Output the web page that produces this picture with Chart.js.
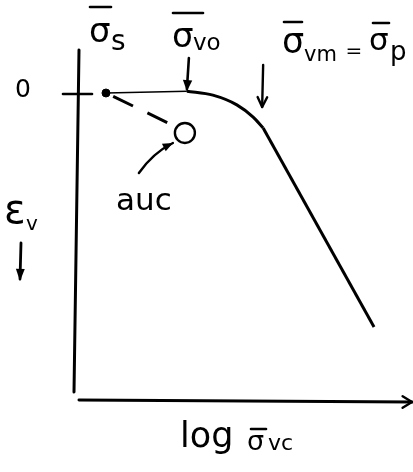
<!DOCTYPE html>
<html><head><meta charset="utf-8">
<script src="https://cdn.jsdelivr.net/npm/chart.js@4.4.1/dist/chart.umd.min.js"></script>
<style>html,body{margin:0;padding:0;background:#fff;overflow:hidden}</style>
</head><body>
<canvas id="c" width="413" height="472" style="display:block;width:413px;height:472px"></canvas>
<script>
// Vertical strain vs. log of vertical effective stress (schematic, arbitrary units)
const plateauX = [0.87, 3.30];          // sigma_s -> sigma_vo
const plateauY = [0, -0.05];
const bendX = [3.30, 4.08, 4.80, 5.29, 5.59];   // rounded transition sigma_vo -> sigma_vm
const bendY = [-0.05, 0.06, 0.33, 0.67, 0.97];
const virginX = [5.59, 8.92];           // straight compression line beyond sigma_vm
const virginY = [0.97, 6.5];
const reloadX = [0.87, 2.73];           // dashed reload path
const reloadY = [0, 0.83];
const specimenX = [3.24];               // open marker
const specimenY = [1.11];
const startX = [0.87];
const startY = [0];
const yTickValues = [0];
const yTickLabels = ['0'];
const xRange = [0, 10];
const yRange = [-1.194, 8.583];

const pts = (xs, ys) => xs.map((x, i) => ({x, y: ys[i]}));
const INK = '#000';

function arrowHead(ctx, x0, y0, x1, y1, len, spread, filled) {
  const a = Math.atan2(y1 - y0, x1 - x0);
  const p1 = [x1 - len * Math.cos(a - spread), y1 - len * Math.sin(a - spread)];
  const p2 = [x1 - len * Math.cos(a + spread), y1 - len * Math.sin(a + spread)];
  ctx.beginPath();
  ctx.moveTo(p1[0], p1[1]); ctx.lineTo(x1, y1); ctx.lineTo(p2[0], p2[1]);
  if (filled) { ctx.closePath(); ctx.fill(); } else { ctx.stroke(); }
}
function seg(ctx, x0, y0, x1, y1, w) {
  ctx.lineWidth = w;
  ctx.beginPath(); ctx.moveTo(x0, y0); ctx.lineTo(x1, y1); ctx.stroke();
}
function txt(ctx, s, x, y, size, align) {
  ctx.font = size + 'px "DejaVu Sans"';
  ctx.textAlign = align || 'left';
  ctx.textBaseline = 'alphabetic';
  ctx.fillText(s, x, y);
}
// sigma with an overbar and a subscript
function sigmaBar(ctx, x, y, size, barY, barX0, barX1, sub, subSize, subX, subY) {
  txt(ctx, 'σ', x, y, size);
  seg(ctx, barX0, barY, barX1, barY, 2.6);
  if (sub) txt(ctx, sub, subX, subY, subSize);
}

const sketch = {
  id: 'sketch',
  afterDraw(chart) {
    const {ctx, chartArea: ca, scales: {x, y}} = chart;
    ctx.save();
    ctx.strokeStyle = INK; ctx.fillStyle = INK;
    ctx.lineCap = 'round'; ctx.lineJoin = 'round';

    // axes
    seg(ctx, ca.left + 2, ca.top, ca.left - 3, ca.bottom - 10, 3);
    seg(ctx, ca.left + 2, ca.bottom - 2, ca.right + 2, ca.bottom, 3);
    ctx.lineWidth = 2.4;
    arrowHead(ctx, ca.right - 20, ca.bottom, ca.right + 2, ca.bottom, 11, 0.55, false);

    // y tick and its label
    yTickValues.forEach((v, i) => {
      const py = y.getPixelForValue(v);
      seg(ctx, ca.left - 14, py + 1, ca.left + 15, py + 1, 2.6);
      ctx.textBaseline = 'middle';
      ctx.font = '25px "DejaVu Sans"'; ctx.textAlign = 'center';
      ctx.fillText(yTickLabels[i], 23, py - 2);
    });

    // axis titles
    txt(ctx, 'ε', 4, 223, 40);
    txt(ctx, 'v', 26, 230, 20);
    seg(ctx, 21, 243, 20, 279, 2.8);
    arrowHead(ctx, 21, 243, 20, 281, 13, 0.35, true);

    txt(ctx, 'log', 180, 447, 35);
    sigmaBar(ctx, 247, 450, 27, 429, 251, 266, 'vc', 22, 268, 450);

    // stress labels
    sigmaBar(ctx, 89, 42, 34, 7, 90, 111, 's', 28, 111, 50);
    sigmaBar(ctx, 172, 47, 34, 13, 173, 203, 'vo', 23, 193, 50);
    sigmaBar(ctx, 282, 53, 35, 22, 284, 302, 'vm', 21, 304, 61);
    txt(ctx, '=', 354, 57, 20, 'center');
    sigmaBar(ctx, 369, 50, 31, 23, 373, 389, 'p', 26, 390, 60);

    // arrows to the characteristic stresses
    const xvo = x.getPixelForValue(plateauX[1]);
    const yvo = y.getPixelForValue(plateauY[1]);
    seg(ctx, xvo + 2, 58, xvo, yvo - 2, 2.6);
    arrowHead(ctx, xvo + 2, 58, xvo, yvo, 12, 0.4, true);

    const xvm = x.getPixelForValue(bendX[bendX.length - 1]);
    seg(ctx, xvm, 65, xvm - 1, 107, 2.4);
    ctx.lineWidth = 2.4;
    arrowHead(ctx, xvm, 65, xvm - 1, 107, 11, 0.45, false);

    // pointer to the open marker
    const mx = x.getPixelForValue(specimenX[0]);
    const my = y.getPixelForValue(specimenY[0]);
    const ax0 = mx - 46, ay0 = my + 40, ax1 = mx - 12, ay1 = my + 10;
    ctx.lineWidth = 2.4;
    ctx.beginPath();
    ctx.moveTo(ax0, ay0);
    ctx.quadraticCurveTo(ax0 + 14, ay0 - 20, ax1, ay1);
    ctx.stroke();
    arrowHead(ctx, ax1 - 12, ay1 + 6, ax1, ay1, 11, 0.4, true);
    txt(ctx, 'auc', 116, 210, 31);

    ctx.restore();
  }
};

new Chart(document.getElementById('c'), {
  type: 'scatter',
  data: {
    datasets: [
      { data: pts(plateauX, plateauY), showLine: true, borderColor: INK, borderWidth: 1.6,
        pointRadius: 0, clip: false },
      { data: pts(bendX, bendY), showLine: true, borderColor: INK, borderWidth: 3,
        cubicInterpolationMode: 'monotone', pointRadius: 0, clip: false },
      { data: pts(virginX, virginY), showLine: true, borderColor: INK, borderWidth: 3,
        pointRadius: 0, clip: false },
      { data: pts(reloadX, reloadY), showLine: true, borderColor: INK, borderWidth: 3,
        borderDash: [22, 16], borderDashOffset: 30, pointRadius: 0, clip: false },
      { data: pts(startX, startY), showLine: false, pointRadius: 4, backgroundColor: INK,
        borderColor: INK, clip: false },
      { data: pts(specimenX, specimenY), showLine: false, pointRadius: 10, pointBorderWidth: 2.4,
        backgroundColor: '#fff', borderColor: INK, clip: false }
    ]
  },
  options: {
    responsive: false,
    animation: false,
    events: [],
    layout: { autoPadding: false, padding: { left: 77, right: 3, top: 50, bottom: 70 } },
    scales: {
      x: { type: 'linear', min: xRange[0], max: xRange[1], display: false },
      y: { type: 'linear', min: yRange[0], max: yRange[1], reverse: true, display: false }
    },
    plugins: { legend: { display: false }, tooltip: { enabled: false } }
  },
  plugins: [sketch]
});
</script>
</body></html>
